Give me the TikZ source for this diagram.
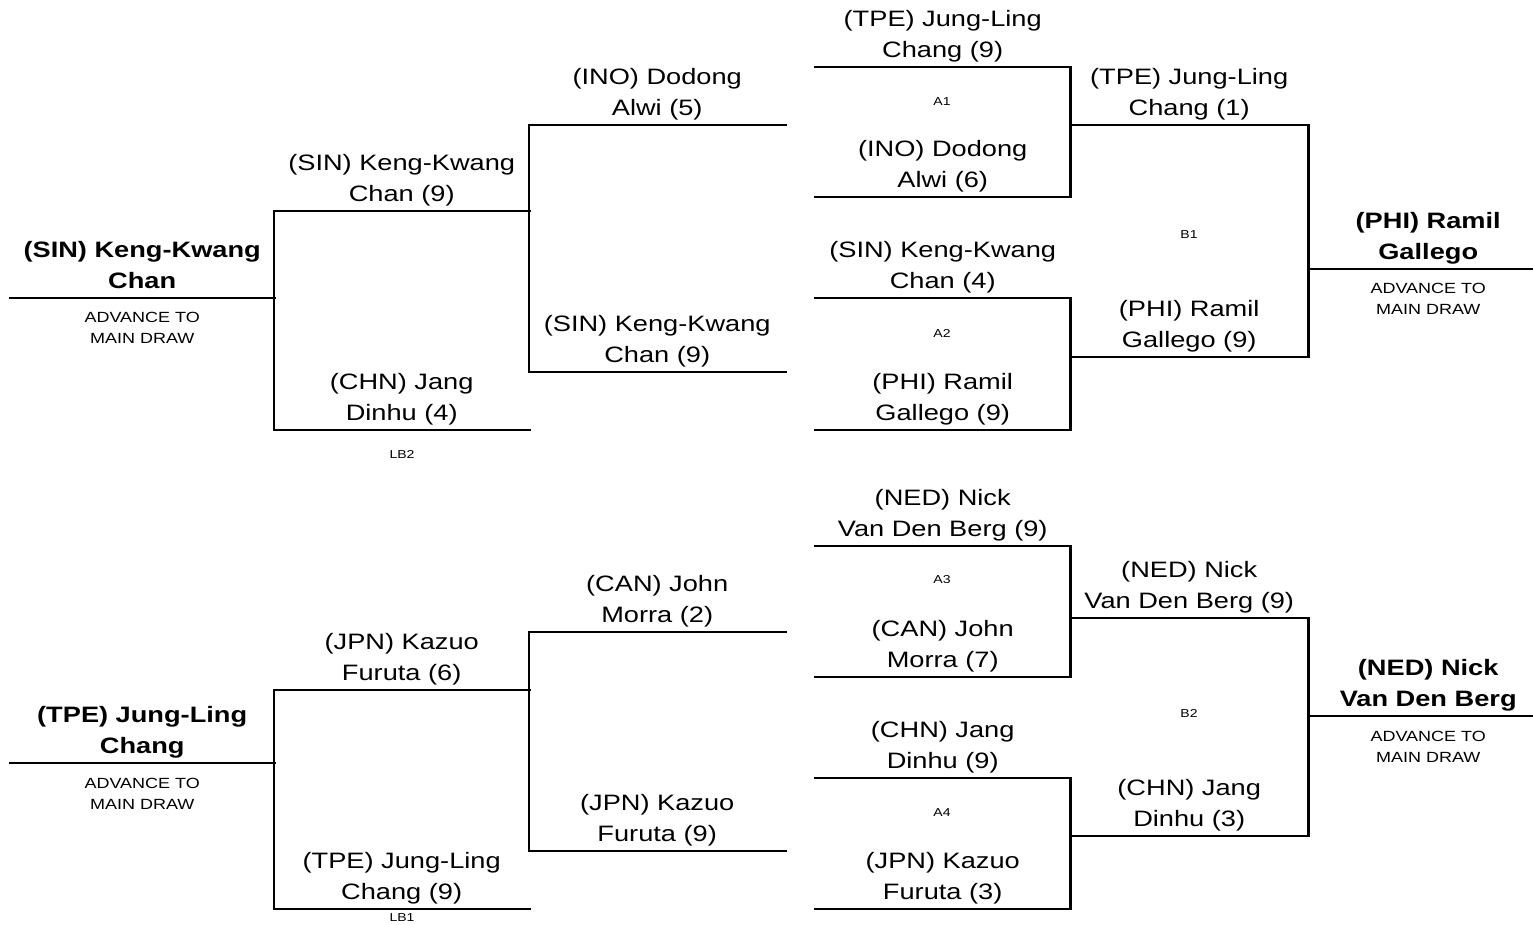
\documentclass[tikz,border=0pt]{standalone}
\usepackage{fontspec}
\setmainfont{Liberation Sans}[FakeStretch=1.22]
\usepackage{tikz}
\usetikzlibrary{positioning}

\newcommand{\namefont}{\fontsize{22.3}{31}\selectfont}
\newcommand{\advfont}{\fontsize{14.75}{21}\selectfont}
\newcommand{\matchfont}{\fontsize{11.5}{13}\selectfont}

\begin{document}
\begin{tikzpicture}[x=1pt, y=-1pt]
    % Define styles
    \tikzstyle{slot} = [anchor=south west, inner sep=0pt, minimum width=255pt, align=center, font=\namefont, execute at end node=\strut]
    \tikzstyle{winner} = [slot, font=\namefont\bfseries]
    \tikzstyle{advance} = [inner sep=0pt, align=center, font=\advfont, execute at begin node=\strut]
    \tikzstyle{matchid} = [inner sep=0pt, font=\matchfont]
    \tikzstyle{rule} = [line width=2.4pt, line cap=rect]

    \useasboundingbox (0,0) rectangle (1533,925);

    % Upper half - loser bracket
    \node[winner, minimum width=264pt] (lbwin1) at (10,298) {(SIN) Keng-Kwang\\Chan};
    \node[slot] (lb2a) at (274,211) {(SIN) Keng-Kwang\\Chan (9)};
    \node[slot] (lb2b) at (274,430) {(CHN) Jang\\Dinhu (4)};
    \node[slot, minimum width=256pt] (lb2c) at (529,125) {(INO) Dodong\\Alwi (5)};
    \node[slot, minimum width=256pt] (lb2d) at (529,372) {(SIN) Keng-Kwang\\Chan (9)};

    % Upper half - A1, A2, B1
    \node[slot] (a1a) at (815,67) {(TPE) Jung-Ling\\Chang (9)};
    \node[slot] (a1b) at (815,197) {(INO) Dodong\\Alwi (6)};
    \node[slot] (a2a) at (815,298) {(SIN) Keng-Kwang\\Chan (4)};
    \node[slot] (a2b) at (815,430) {(PHI) Ramil\\Gallego (9)};
    \node[slot, minimum width=238pt] (b1a) at (1070,125) {(TPE) Jung-Ling\\Chang (1)};
    \node[slot, minimum width=238pt] (b1b) at (1070,357) {(PHI) Ramil\\Gallego (9)};
    \node[winner, minimum width=240pt] (win1) at (1308,269) {(PHI) Ramil\\Gallego};

    % Lower half - loser bracket
    \node[winner, minimum width=264pt] (lbwin2) at (10,763) {(TPE) Jung-Ling\\Chang};
    \node[slot] (lb1a) at (274,690) {(JPN) Kazuo\\Furuta (6)};
    \node[slot] (lb1b) at (274,909) {(TPE) Jung-Ling\\Chang (9)};
    \node[slot, minimum width=256pt] (lb1c) at (529,632) {(CAN) John\\Morra (2)};
    \node[slot, minimum width=256pt] (lb1d) at (529,851) {(JPN) Kazuo\\Furuta (9)};

    % Lower half - A3, A4, B2
    \node[slot] (a3a) at (815,546) {(NED) Nick\\Van Den Berg (9)};
    \node[slot] (a3b) at (815,677) {(CAN) John\\Morra (7)};
    \node[slot] (a4a) at (815,778) {(CHN) Jang\\Dinhu (9)};
    \node[slot] (a4b) at (815,909) {(JPN) Kazuo\\Furuta (3)};
    \node[slot, minimum width=238pt] (b2a) at (1070,618) {(NED) Nick\\Van Den Berg (9)};
    \node[slot, minimum width=238pt] (b2b) at (1070,836) {(CHN) Jang\\Dinhu (3)};
    \node[winner, minimum width=240pt] (win2) at (1308,716) {(NED) Nick\\Van Den Berg};

    % Advance notes
    \node[advance, below=14.5pt of lbwin1] (adv1) {ADVANCE TO\\MAIN DRAW};
    \node[advance, below=14.5pt of win1] (adv2) {ADVANCE TO\\MAIN DRAW};
    \node[advance, below=14.5pt of lbwin2] (adv3) {ADVANCE TO\\MAIN DRAW};
    \node[advance, below=14.5pt of win2] (adv4) {ADVANCE TO\\MAIN DRAW};

    % Match ids
    \node[matchid] (idA1) at (942,102) {A1};
    \node[matchid] (idA2) at (942,333) {A2};
    \node[matchid] (idB1) at (1189,235) {B1};
    \node[matchid] (idLB2) at (402,454) {LB2};
    \node[matchid] (idA3) at (942,580) {A3};
    \node[matchid] (idA4) at (942,813) {A4};
    \node[matchid] (idB2) at (1189,713) {B2};
    \node[matchid] (idLB1) at (402,918) {LB1};

    % Slot lines
    \foreach \n in {lbwin1,lb2a,lb2b,lb2c,lb2d,a1a,a1b,a2a,a2b,b1a,b1b,win1,
                    lbwin2,lb1a,lb1b,lb1c,lb1d,a3a,a3b,a4a,a4b,b2a,b2b,win2}
        \draw[rule] (\n.south west) -- (\n.south east);

    % Bracket joins
    \draw[rule] (lb2a.south west) -- (lb2b.south west);
    \draw[rule] (lb2c.south west) -- (lb2d.south west);
    \draw[rule] (a1a.south east) -- (a1b.south east);
    \draw[rule] (a2a.south east) -- (a2b.south east);
    \draw[rule] (b1a.south east) -- (b1b.south east);
    \draw[rule] (lb1a.south west) -- (lb1b.south west);
    \draw[rule] (lb1c.south west) -- (lb1d.south west);
    \draw[rule] (a3a.south east) -- (a3b.south east);
    \draw[rule] (a4a.south east) -- (a4b.south east);
    \draw[rule] (b2a.south east) -- (b2b.south east);
\end{tikzpicture}
\end{document}
